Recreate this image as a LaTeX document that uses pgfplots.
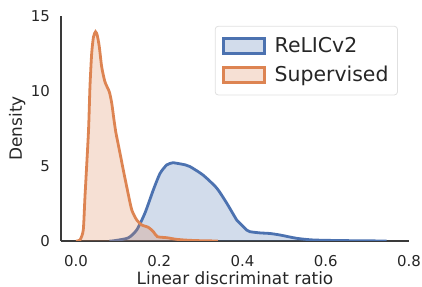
\documentclass[border=0pt]{standalone}
\usepackage{fontspec}
\setmainfont{DejaVu Sans}
\usepackage{pgfplots}
\pgfplotsset{compat=1.18}
\usepackage{pgfplotstable}
\definecolor{sblue}{HTML}{4C72B0}
\definecolor{sorange}{HTML}{DD8452}
\definecolor{txt}{HTML}{262626}
\definecolor{spine}{HTML}{3A3A3A}

\pgfplotstableread{
x y
0.000 0.0
0.0096 0.07
0.0175 0.73
0.0216 2.95
0.0300 7.3
0.0336 10.3
0.0377 12.5
0.0420 13.6
0.0470 13.95
0.0512 13.7
0.0560 12.95
0.0618 11.6
0.0697 10.6
0.0800 9.95
0.0858 9.2
0.0913 8.07
0.0960 7.2
0.1042 6.07
0.1139 4.7
0.1235 3.4
0.1340 2.07
0.1460 1.4
0.1580 1.07
0.1739 0.91
0.1859 0.62
0.1955 0.29
0.2180 0.22
0.2420 0.11
0.2700 0.05
0.3000 0.02
0.3410 0.0
}\sup

\pgfplotstableread{
x y
0.080 0.0
0.089 0.01
0.1249 0.2
0.1457 0.73
0.1658 1.87
0.1857 3.4
0.2018 4.5
0.2179 5.07
0.2300 5.20
0.2339 5.22
0.2620 5.08
0.2739 4.96
0.3051 4.4
0.3380 3.53
0.3620 2.53
0.3861 1.4
0.3940 1.18
0.4101 0.73
0.4180 0.62
0.4420 0.54
0.4660 0.50
0.4900 0.40
0.5300 0.18
0.5694 0.07
0.6342 0.03
0.7465 0.0
}\relic

\begin{document}
\begin{tikzpicture}
\begin{axis}[
  at={(0,0)}, anchor=south west,
  scale only axis, width=348bp, height=225bp,
  xmin=-0.036, xmax=0.8, ymin=0, ymax=15,
  axis x line*=bottom, axis y line*=left,
  axis line style={draw=spine, line width=1.25bp},
  xtick={0,0.2,0.4,0.6,0.8},
  xticklabels={0.0,0.2,0.4,0.6,0.8},
  ytick={0,5,10,15},
  yticklabels={0,5,10,15},
  major tick length=0pt,
  tick label style={font=\fontsize{15}{18}\selectfont, text=txt, inner sep=0pt},
  xticklabel style={anchor=north, yshift=-14bp},
  yticklabel style={anchor=east, xshift=-11bp},
  xlabel={Linear discriminat ratio},
  ylabel={Density},
  label style={font=\fontsize{17}{20}\selectfont, text=txt, inner sep=0pt},
  xlabel style={at={(axis description cs:0.5,0)}, anchor=base, yshift=-43bp},
  ylabel style={at={(axis description cs:0,0.5)}, anchor=base, yshift=39bp},
  legend image code/.code={\draw[#1, sharp corners] (0bp,-7.5bp) rectangle (41bp,7.5bp); \path (48bp,0bp);},
  legend style={at={(0.968,0.956)}, anchor=north east,
    draw=black!12, line width=0.8bp, rounded corners=3bp, fill=white,
    font=\fontsize{20.5}{24}\selectfont, text=txt,
    inner xsep=7bp, inner ysep=9.5bp, row sep=8bp},
  legend cell align=left,
]
\addplot[draw=none, fill=sblue, fill opacity=0.25, smooth, tension=0.4, forget plot] table {\relic} \closedcycle;
\addplot[draw=sblue, line width=2.8bp, smooth, tension=0.4, forget plot] table {\relic};
\addplot[draw=none, fill=sorange, fill opacity=0.25, smooth, tension=0.4, forget plot] table {\sup} \closedcycle;
\addplot[draw=sorange, line width=2.8bp, smooth, tension=0.4, forget plot] table {\sup};
\addlegendimage{draw=sblue, fill=sblue!25, line width=2.5bp}
\addlegendentry{ReLICv2}
\addlegendimage{draw=sorange, fill=sorange!25, line width=2.5bp}
\addlegendentry{Supervised}
\end{axis}
\pgfresetboundingbox
\useasboundingbox (-61bp,-46bp) rectangle (361bp,241bp);
\end{tikzpicture}
\end{document}
